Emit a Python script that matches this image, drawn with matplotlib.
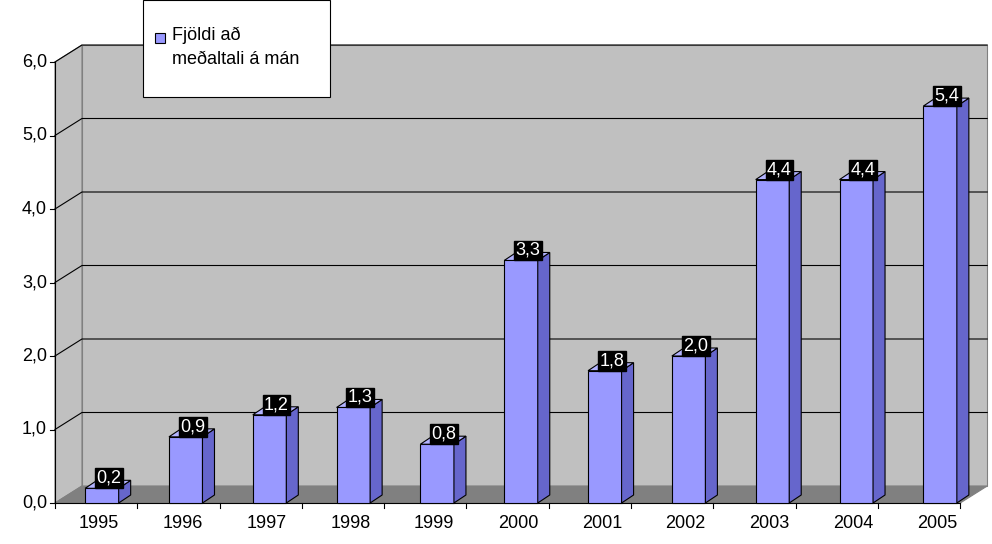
import matplotlib
matplotlib.use("Agg")
import matplotlib.pyplot as plt
from matplotlib.patches import Polygon
from matplotlib.transforms import IdentityTransform

plt.rcParams['font.family'] = ['Liberation Sans', 'DejaVu Sans']

years = ["1995", "1996", "1997", "1998", "1999", "2000", "2001", "2002", "2003", "2004", "2005"]
values = [0.2, 0.9, 1.2, 1.3, 0.8, 3.3, 1.8, 2.0, 4.4, 4.4, 5.4]
yticks = [0, 1, 2, 3, 4, 5, 6]
legend_text = "Fjöldi að\nmeðaltali á mán"

W, H = 992, 544
fig = plt.figure(figsize=(W / 100, H / 100), dpi=100)
ax = fig.add_axes([60 / W, (H - 503) / H, 922 / W, 441 / H])
ax.set_xlim(-0.5, len(years) - 0.5)
ax.set_ylim(0, 6)
ax.axis("off")
fig.canvas.draw()

DX, DY = 27, 17      # wall depth (pixels)
BX, BY = 12, 8       # bar depth (pixels)
HALF = 0.2
FS = 13
ident = IdentityTransform()


def px(x, y, dx=0, dy=0):
    a, b = ax.transData.transform((x, y))
    return (a + dx, b + dy)


def poly(pts, fc, ec="black", lw=0.8, z=1):
    p = Polygon(pts, closed=True, facecolor=fc, edgecolor=ec, linewidth=lw,
                transform=ident, zorder=z, clip_on=False)
    fig.add_artist(p)


x0, x1 = -0.56, 10.24
# back wall
poly([px(x0, 0, DX, DY), px(x1, 0, DX, DY), px(x1, 6, DX, DY), px(x0, 6, DX, DY)], "#c0c0c0", "#808080")
# left wall
poly([px(x0, 0), px(x0, 0, DX, DY), px(x0, 6, DX, DY), px(x0, 6)], "#c0c0c0", "#808080")
# floor
poly([px(x0, 0), px(x1, 0), px(x1, 0, DX, DY), px(x0, 0, DX, DY)], "#808080", "#808080")

# gridlines
for t in yticks[1:]:
    a, b, c = px(x0, t), px(x0, t, DX, DY), px(x1, t, DX, DY)
    fig.add_artist(plt.Line2D([a[0], b[0], c[0]], [a[1], b[1], c[1]], color="black",
                              lw=0.8, transform=ident, zorder=2))

# y axis line and ticks
a, b = px(x0, 0), px(x0, 6)
fig.add_artist(plt.Line2D([a[0], b[0]], [a[1], b[1]], color="black", lw=0.8, transform=ident, zorder=3))
for t in yticks:
    p = px(x0, t)
    fig.add_artist(plt.Line2D([p[0] - 5, p[0]], [p[1], p[1]], color="black", lw=0.8, transform=ident, zorder=3))
    fig.text((p[0] - 8) / W, p[1] / H, f"{t:.1f}".replace(".", ","), ha="right", va="center", fontsize=FS)
# x axis line and ticks
a, b = px(x0, 0), px(x1, 0)
fig.add_artist(plt.Line2D([a[0], b[0]], [a[1], b[1]], color="black", lw=0.8, transform=ident, zorder=3))
for i in range(len(years) + 1):
    p = px(x0 + i * (x1 - x0) / len(years), 0)
    fig.add_artist(plt.Line2D([p[0], p[0]], [p[1], p[1] - 5], color="black", lw=0.8, transform=ident, zorder=3))

# bars
for i, (yr, v) in enumerate(zip(years, values)):
    l, r = i - HALF, i + HALF
    poly([px(l, 0), px(r, 0), px(r, v), px(l, v)], "#9999ff", z=5)
    poly([px(r, 0), px(r, 0, BX, BY), px(r, v, BX, BY), px(r, v)], "#6666cc", z=5)
    poly([px(l, v), px(r, v), px(r, v, BX, BY), px(l, v, BX, BY)], "#b3b3ff", z=5)
    t = px(i, v, 7, 10)
    fig.text(t[0] / W, t[1] / H, f"{v:.1f}".replace(".", ","), ha="center", va="center",
             fontsize=FS, color="white", zorder=6,
             bbox=dict(boxstyle="square,pad=0.08", fc="black", ec="black"))
    b = px(i, 0, -3)
    fig.text(b[0] / W, (b[1] - 21) / H, yr, ha="center", va="center", fontsize=FS)

# legend
lg = Polygon([(143, H - 0), (330, H - 0), (330, H - 97), (143, H - 97)], closed=True,
             facecolor="white", edgecolor="black", linewidth=0.8, transform=ident, zorder=7)
fig.add_artist(lg)
sq = Polygon([(155, H - 33), (165, H - 33), (165, H - 43), (155, H - 43)], closed=True,
             facecolor="#9999ff", edgecolor="black", linewidth=0.8, transform=ident, zorder=8)
fig.add_artist(sq)
fig.text(172 / W, (H - 27) / H, legend_text, ha="left", va="top", fontsize=FS,
         linespacing=1.5, zorder=8)

fig.savefig("out.png", dpi=100, facecolor="white")
